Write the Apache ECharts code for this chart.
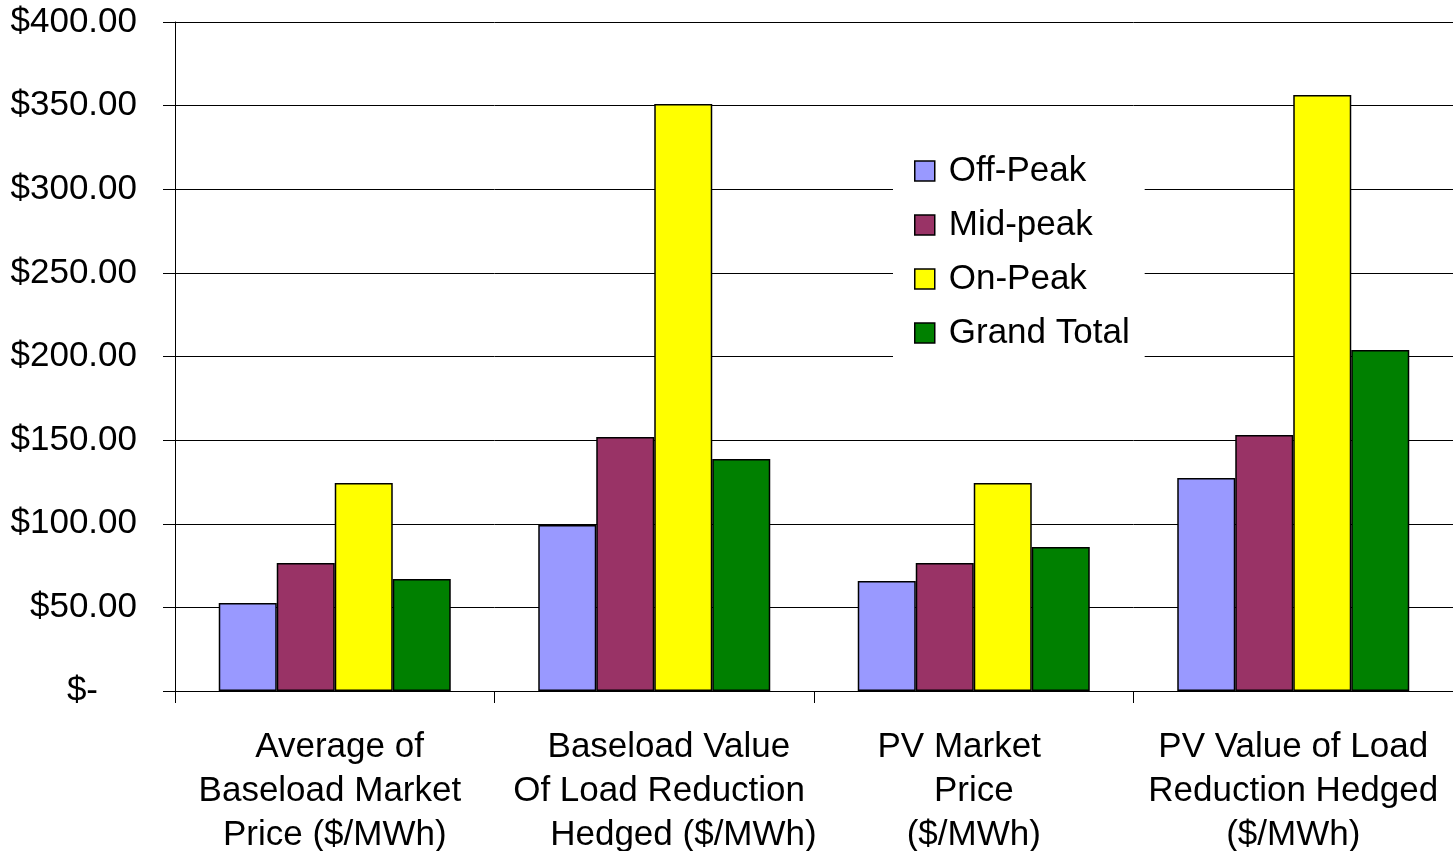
<!DOCTYPE html>
<html>
<head>
<meta charset="utf-8">
<script src="https://cdn.jsdelivr.net/npm/echarts@6/dist/echarts.min.js"></script>
<style>
  html, body { margin: 0; padding: 0; background: #fff; }
  #chart { width: 1453px; height: 851px; }
</style>
</head>
<body>
<div id="chart"></div>
<script>
var categories = [
    ' Average of\nBaseload Market \nPrice ($/MWh)',
    '   Baseload Value\n Of Load Reduction\n      Hedged ($/MWh)',
    'PV Market   \nPrice\n($/MWh)',
    'PV Value of Load\nReduction Hedged\n($/MWh)'
];
var seriesNames = ['Off-Peak', 'Mid-peak', 'On-Peak', 'Grand Total'];
var offPeak = [52.6, 99.2, 65.8, 127.4];
var midPeak = [76.5, 151.9, 76.5, 153.1];
var onPeak = [124.4, 351.0, 124.4, 356.4];
var grandTotal = [67.0, 138.7, 86.1, 203.9];
var colors = ['#9999FF', '#993366', '#FFFF00', '#008000'];

var chart = echarts.init(document.getElementById('chart'));
var font = 'Liberation Sans, Arial, sans-serif';

function makeSeries(name, data, color) {
    return {
        name: name,
        type: 'bar',
        data: data,
        barWidth: 58,
        barGap: '0%',
        itemStyle: { color: color, borderColor: '#000', borderWidth: 1.5 }
    };
}

chart.setOption({
    animation: false,
    textStyle: { fontFamily: font },
    grid: { left: 175, right: 0, top: 22, bottom: 160, outerBoundsMode: 'none', containLabel: false },
    legend: {
        orient: 'vertical',
        left: 893,
        top: 143,
        padding: [10, 15, 12, 21],
        backgroundColor: '#fff',
        itemWidth: 20,
        itemHeight: 20,
        itemGap: 18,
        icon: 'rect',
        itemStyle: { borderColor: '#000', borderWidth: 1.5 },
        textStyle: {
            fontSize: 35, lineHeight: 36, color: '#000', fontFamily: font,
            padding: [0, 0, 0, 9]
        },
        data: seriesNames
    },
    xAxis: {
        type: 'category',
        data: categories,
        axisLine: { lineStyle: { color: '#000', width: 1 } },
        axisTick: { show: true, length: 12, lineStyle: { color: '#000' } },
        axisLabel: {
            color: '#000', fontSize: 35, lineHeight: 44, margin: 34,
            fontFamily: font, interval: 0, align: 'center'
        }
    },
    yAxis: {
        type: 'value',
        min: 0,
        max: 400,
        interval: 50,
        axisLine: { show: true, lineStyle: { color: '#000', width: 1 } },
        axisTick: { show: true, length: 12, lineStyle: { color: '#000' } },
        splitLine: { lineStyle: { color: '#000', width: 1 } },
        axisLabel: {
            color: '#000', fontSize: 35, margin: 38, fontFamily: font,
            formatter: function (v) {
                return v === 0 ? '{z|$-}' : '$' + v.toFixed(2);
            },
            rich: { z: { fontSize: 35, color: '#000', padding: [0, 39, 0, 0], fontFamily: font } }
        }
    },
    series: [
        makeSeries(seriesNames[0], offPeak, colors[0]),
        makeSeries(seriesNames[1], midPeak, colors[1]),
        makeSeries(seriesNames[2], onPeak, colors[2]),
        makeSeries(seriesNames[3], grandTotal, colors[3])
    ]
});
</script>
</body>
</html>
